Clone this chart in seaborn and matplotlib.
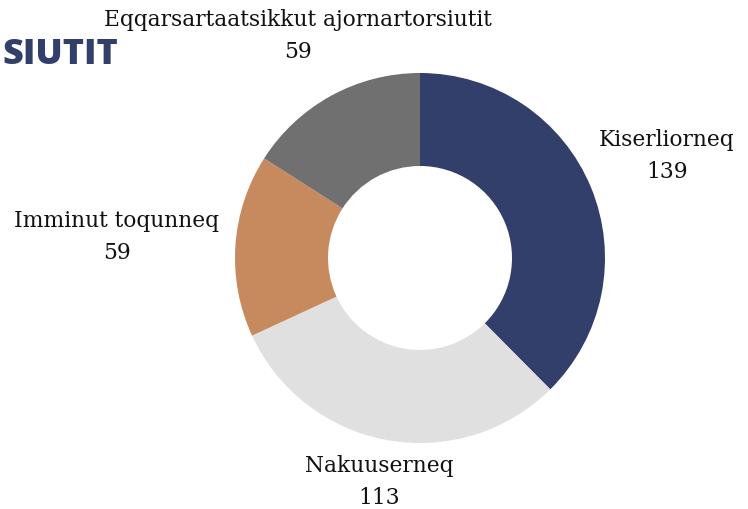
import matplotlib
matplotlib.use("Agg")
import matplotlib.pyplot as plt
import seaborn as sns

categories = ["Kiserliorneq", "Nakuuserneq", "Imminut toqunneq", "Eqqarsartaatsikkut ajornartorsiutit"]
values = [139, 113, 59, 59]
colors = ["#333F6B", "#E0E0E0", "#C68A5E", "#707070"]

sns.set_theme(style="white")
plt.rcParams["font.family"] = ["DejaVu Serif"]

W, H = 748, 509
fig = plt.figure(figsize=(W / 100, H / 100), dpi=100)
ax = fig.add_axes([0, 0, 1, 1])

cx, cy, R = 420, H - 258, 185
ax.pie(values, colors=sns.color_palette(colors), startangle=90, counterclock=False,
       center=(cx, cy), radius=R, wedgeprops=dict(width=R - 92, linewidth=0),
       frame=True)
ax.set_xlim(0, W)
ax.set_ylim(0, H)
ax.set_aspect("equal")
ax.axis("off")

label_pos = [(667, 140), (379, 466), (117, 221), (298, 20)]
for cat, val, (x, y) in zip(categories, values, label_pos):
    ax.text(x, H - y, cat, ha="center", va="center", fontsize=15.7, color="#111111")
    ax.text(x, H - y - 32, str(val), ha="center", va="center", fontsize=15.7, color="#111111")

fig.text(118 / W, 1 - 55 / H, "SIUTIT", ha="right", va="center", fontsize=26,
         fontweight="heavy", color="#333F6B", family=["Open Sans", "DejaVu Sans"])

fig.savefig("out.png", dpi=100)
